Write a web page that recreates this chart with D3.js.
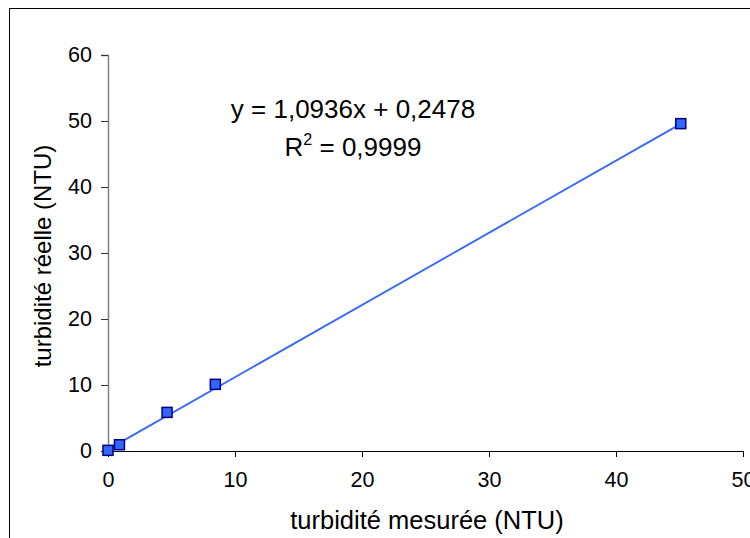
<!DOCTYPE html>
<html><head><meta charset="utf-8">
<script src="https://cdn.jsdelivr.net/npm/d3@7"></script>
<style>body{margin:0;background:#fff}svg{display:block}text{font-family:"Liberation Sans",Arial,sans-serif;fill:#000}</style>
</head><body>
<svg id="c" width="750" height="538"></svg>
<script>
const measured = [0, 0.9, 4.65, 8.45, 45.1];
const actual = [0.1, 0.95, 5.85, 10.1, 49.6];
const xTicks = [0, 10, 20, 30, 40, 50];
const yTicks = [0, 10, 20, 30, 40, 50, 60];
const slope = 1.0936, intercept = 0.2478;
const eqLabel = "y = 1,0936x + 0,2478";
const r2Label = "0,9999";
const xTitle = "turbidité mesurée (NTU)";
const yTitle = "turbidité réelle (NTU)";

const svg = d3.select("#c");
svg.append("rect").attr("x",9.5).attr("y",8.5).attr("width",760).attr("height",560)
  .attr("fill","none").attr("stroke","#000").attr("stroke-width",1);

const x = d3.scaleLinear().domain([0,50]).range([108,743]);
const y = d3.scaleLinear().domain([0,60]).range([451,55]);

const xAxis = svg.append("g").attr("transform","translate(0,451)")
  .call(d3.axisBottom(x).tickValues(xTicks).tickSize(6).tickPadding(15));
xAxis.select(".domain").attr("stroke","#000");
xAxis.selectAll("text").attr("font-size",21.5);

const yAxis = svg.append("g").attr("transform","translate(108,0)")
  .call(d3.axisLeft(y).tickValues(yTicks).tickSize(7).tickPadding(9));
yAxis.select(".domain").attr("stroke","#808080").attr("stroke-width",1.5);
yAxis.selectAll(".tick line").attr("stroke","#333");
yAxis.selectAll("text").attr("font-size",21.5);

const xr = d3.extent(measured);
svg.append("line")
  .attr("x1",x(xr[0])).attr("y1",y(slope*xr[0]+intercept))
  .attr("x2",x(xr[1])).attr("y2",y(slope*xr[1]+intercept))
  .attr("stroke","#3366ff").attr("stroke-width",1.8);

svg.selectAll("rect.pt").data(measured).enter().append("rect").attr("class","pt")
  .attr("x",(d)=>x(d)-5).attr("y",(d,i)=>y(actual[i])-5)
  .attr("width",10).attr("height",10)
  .attr("fill","#3366ff").attr("stroke","#000080").attr("stroke-width",1.5);

svg.append("text").attr("x",353).attr("y",118).attr("text-anchor","middle")
  .attr("font-size",26).text(eqLabel);
const r = svg.append("text").attr("x",353).attr("y",156).attr("text-anchor","middle").attr("font-size",26);
r.append("tspan").text("R");
r.append("tspan").attr("font-size",16).attr("dy",-11).text("2");
r.append("tspan").attr("dy",11).text(" = " + r2Label);

svg.append("text").attr("x",427).attr("y",529).attr("text-anchor","middle")
  .attr("font-size",25.5).text(xTitle);
svg.append("text").attr("transform","translate(51,256) rotate(-90)")
  .attr("text-anchor","middle").attr("font-size",24).text(yTitle);
</script>
</body></html>
